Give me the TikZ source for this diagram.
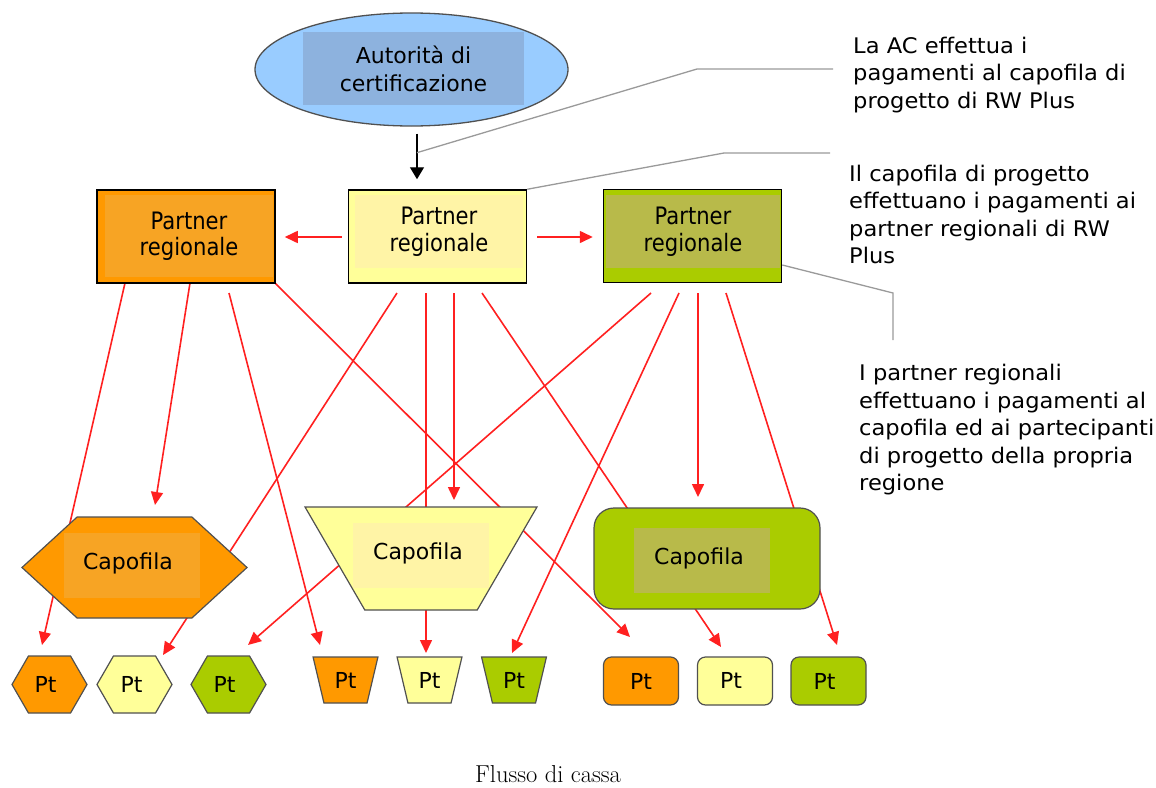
\documentclass[tikz,border=0pt]{standalone}
\usepackage{fontspec}
\newfontfamily\verd{DejaVu Sans}
\newfontfamily\verdc{DejaVu Sans}[FakeStretch=0.88]
\newfontfamily\verdw{DejaVu Sans}[FakeStretch=1.05]
\usetikzlibrary{shapes.geometric,shapes.symbols,arrows.meta,calc,backgrounds}
\definecolor{orangeO}{HTML}{FF9900}
\definecolor{orangeI}{HTML}{F7A424}
\definecolor{yellowO}{HTML}{FFFF99}
\definecolor{yellowI}{HTML}{FFF4A6}
\definecolor{greenO}{HTML}{AACC00}
\definecolor{greenI}{HTML}{B8BA4A}
\definecolor{blueO}{HTML}{99CCFF}
\definecolor{blueI}{HTML}{8DB2DE}
\definecolor{flowred}{HTML}{FF2020}
\definecolor{calloutgray}{HTML}{9A9A9A}
\definecolor{shapeline}{HTML}{505050}
\newcommand\notefnt{\verdw\fontsize{21.5}{27.5}\selectfont}
\newcommand\boxfnt{\verdc\fontsize{24}{26.5}\selectfont}
\newcommand\capfnt{\verd\fontsize{22}{27}\selectfont}
\begin{document}
\begin{tikzpicture}[x=1pt, y=-1pt,
  redarrow/.style={-{Triangle[length=13pt, width=12pt]}, draw=flowred, line width=1.6pt},
  callout/.style={draw=calloutgray, line width=1.3pt},
  partner/.style={rectangle, draw=black, line width=1.5pt, minimum width=178pt, minimum height=93pt, inner sep=0pt},
  partxt/.style={font=\boxfnt, align=center, inner sep=0pt, minimum height=73pt},
  captxt/.style={font=\capfnt, inner sep=0pt, minimum width=136pt, minimum height=65pt},
  bighex/.style={signal, signal to=east and west, signal pointer angle=85, draw=shapeline, line width=1.2pt, minimum width=225pt, minimum height=101pt, inner sep=2pt},
  bigtrap/.style={trapezium, trapezium left angle=62, trapezium right angle=62, shape border rotate=180, trapezium stretches=true, draw=shapeline, line width=1.2pt, minimum width=232pt, minimum height=103pt, inner sep=2pt},
  biground/.style={rectangle, rounded corners=20pt, draw=shapeline, line width=1.2pt, minimum width=226pt, minimum height=101pt, inner sep=0pt},
  pthex/.style={signal, signal to=east and west, signal pointer angle=120, draw=shapeline, line width=1.2pt, minimum width=75pt, minimum height=57pt, inner sep=0pt, font=\capfnt},
  pttrap/.style={trapezium, trapezium left angle=71, trapezium right angle=71, shape border rotate=180, trapezium stretches=true, draw=shapeline, line width=1.2pt, minimum width=65pt, minimum height=46pt, inner sep=0pt, font=\capfnt},
  ptround/.style={rectangle, rounded corners=8pt, draw=shapeline, line width=1.2pt, minimum width=75pt, minimum height=48pt, inner sep=0pt, font=\capfnt},
  note/.style={anchor=west, align=left, inner sep=0pt, font=\notefnt}]
\useasboundingbox (0,0) rectangle (1156,787);

% autorita di certificazione
\node[ellipse, draw=shapeline, fill=blueO, line width=1.3pt, minimum width=313pt, minimum height=113pt] (acert) at (411.5,69.5) {};
\node[fill=blueI, minimum width=221pt, minimum height=73pt, inner sep=0pt, align=center, font=\verd\fontsize{22}{28}\selectfont] (acerttxt) at (413.5,68.5) {Autorità di\\certificazione};

% partner regionali
\node[partner, fill=orangeO] (lpart) at (186,236.5) {};
\node[partxt, fill=orangeI, minimum width=168pt, minimum height=82pt] (lparttxt) at (189,236) {Partner\\regionale};
\node[partner, fill=yellowO] (mpart) at (437.5,236.5) {};
\node[partxt, fill=yellowI, minimum width=168pt] (mparttxt) at (439,231.5) {Partner\\regionale};
\node[partner, fill=greenO] (rpart) at (692.5,236) {};
\node[partxt, fill=greenI, minimum width=174pt] (rparttxt) at (693,231.5) {Partner\\regionale};

% capofila
\node[bighex, fill=orangeO] (caphex) at (134.5,567.5) {};
\node[captxt, fill=orangeI] (caphextxt) at (132,565.5) {\hspace*{-8pt}\raisebox{9pt}{Capofila}};
\node[bigtrap, fill=yellowO] (captrap) at (421,558.5) {};
\node[captxt, fill=yellowI] (captraptxt) at (421,555.5) {\hspace*{-6pt}\raisebox{9pt}{Capofila}};
\node[biground, fill=greenO] (caprr) at (707,558.5) {};
\node[captxt, fill=greenI] (caprrtxt) at (702,560.5) {\hspace*{-6pt}\raisebox{9pt}{Capofila}};

% partecipanti
\node[pthex, fill=orangeO] (ptO1) at (49.5,684.5) {\hspace*{-8pt}\raisebox{-4pt}{Pt}};
\node[pthex, fill=yellowO] (ptY1) at (134.5,684.5) {\hspace*{-6pt}\raisebox{-3pt}{Pt}};
\node[pthex, fill=greenO] (ptG1) at (228.5,684.5) {\hspace*{-8pt}\raisebox{-3pt}{Pt}};
\node[pttrap, fill=orangeO] (ptO2) at (345.5,680) {Pt};
\node[pttrap, fill=yellowO] (ptY2) at (429.5,680) {Pt};
\node[pttrap, fill=greenO] (ptG2) at (514,680) {Pt};
\node[ptround, fill=orangeO] (ptO3) at (641,681) {\raisebox{-3pt}{Pt}};
\node[ptround, fill=yellowO] (ptY3) at (735,681) {\hspace*{-8pt}\raisebox{1pt}{Pt}};
\node[ptround, fill=greenO] (ptG3) at (828.5,681) {\hspace*{-8pt}\raisebox{-3pt}{Pt}};

% note
\node[note] (note1) at (853,75) {La AC effettua i\\pagamenti al capofila di\\progetto di RW Plus};
\node[note] (note2) at (849,214.5) {Il capofila di progetto\\effettuano i pagamenti ai\\partner regionali di RW\\Plus};
\node[note] (note3) at (859,430) {I partner regionali\\effettuano i pagamenti al\\capofila ed ai partecipanti\\di progetto della propria\\regione};
\node[font=\fontsize{24.5}{30}\selectfont, inner sep=0pt] (caption) at (548,774.5) {Flusso di cassa};

\begin{scope}[on background layer]
\draw[-{Triangle[length=12pt, width=14pt]}, line width=1.3pt] ($(acert.south)+(5.5,7)$) -- ($(mpart.north)+(-20.5,-10)$);
\draw[redarrow] ($(mpart.west)+(-6,0.5)$) -- ($(lpart.east)+(9,0.5)$);
\draw[redarrow] ($(mpart.east)+(10,0.5)$) -- ($(rpart.west)+(-10,1)$);

% pagamenti dai partner regionali
\draw[redarrow] ($(lpart)+(-61,46.5)$) -- ($(ptO1)+(-7.5,-39.5)$);
\draw[redarrow] ($(lpart)+(4,46.5)$) -- ($(caphex)+(20.5,-62.5)$);
\draw[redarrow] ($(lpart)+(43,56.5)$) -- ($(ptO2)+(-25.5,-35)$);
\draw[redarrow] ($(lpart)+(89,46.5)$) -- ($(ptO3)+(-11,-44)$);
\draw[redarrow] ($(mpart)+(-40.5,56.5)$) -- ($(ptY1)+(28.5,-29.5)$);
\draw[redarrow] ($(mpart)+(-11.5,56.5)$) -- ($(ptY2)+(-3.5,-27)$);
\draw[redarrow] ($(mpart)+(16.5,56.5)$) -- ($(captrap)+(33,-58.5)$);
\draw[redarrow] ($(mpart)+(44.5,56.5)$) -- ($(ptY3)+(-14,-34)$);
\draw[redarrow] ($(rpart)+(-41.5,57)$) -- ($(ptG1)+(19.5,-39.5)$);
\draw[redarrow] ($(rpart)+(-13.5,57)$) -- ($(ptG2)+(-2,-27)$);
\draw[redarrow] ($(rpart)+(5.5,57)$) -- ($(caprr)+(-9,-61.5)$);
\draw[redarrow] ($(rpart)+(33.5,57)$) -- ($(ptG3)+(8.5,-36)$);

\draw[callout] ($(acert.south)+(5.5,26)$) -- ($(note1.west)+(-156,-6)$) -- ($(note1.west)+(-20,-6)$);
\draw[callout] (mpart.north east) -- ($(note2.west)+(-125,-61.5)$) -- ($(note2.west)+(-19,-61.5)$);
\draw[callout] ($(rpart.east)+(0,29)$) -- ($(note3.west)+(34,-137)$) -- ($(note3.west)+(34,-90)$);
\end{scope}
\end{tikzpicture}
\end{document}
